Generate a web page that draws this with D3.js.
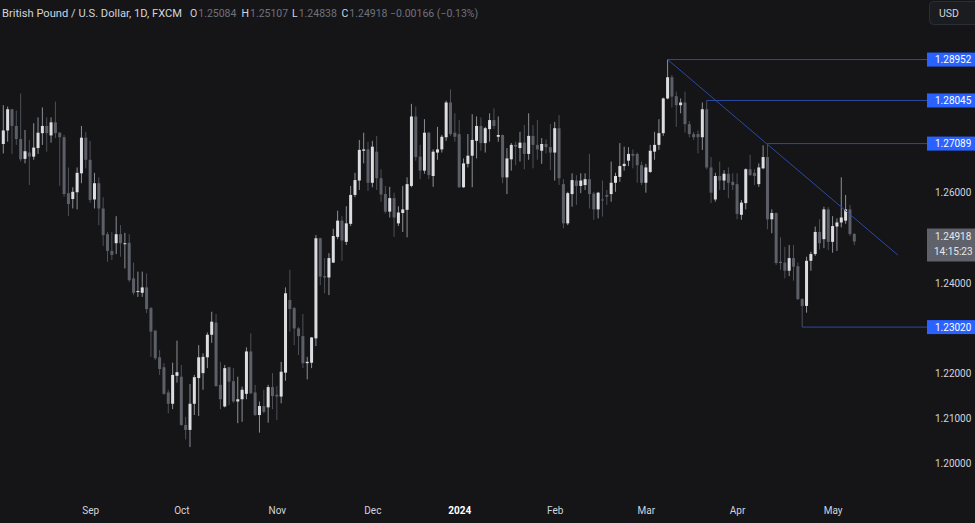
<!DOCTYPE html>
<html><head><meta charset="utf-8">
<script src="https://cdn.jsdelivr.net/npm/d3@7"></script>
<style>
html,body{margin:0;padding:0;background:#151518;overflow:hidden;}
svg{display:block;}
</style></head><body>
<svg id="chart" width="975" height="523"></svg>
<script>
// ---- data: GBP/USD daily candles (FXCM), Aug 2023 – May 2024 ----
const open = [
1.2708,1.2738,1.2785,1.2748,1.2719,1.2675,1.2689,1.2680,1.2699,1.2732,
1.2748,1.2727,1.2756,1.2733,1.2723,1.2599,1.2586,1.2601,1.2643,1.2722,
1.2673,1.2585,1.2621,1.2565,1.2508,1.2471,1.2488,1.2508,1.2486,1.2489,
1.2410,1.2381,1.2378,1.2390,1.2344,1.2294,1.2235,1.2213,1.2157,1.2132,
1.2194,1.2192,1.2085,1.2074,1.2132,1.2189,1.2200,1.2235,1.2285,1.2312,
1.2174,1.2126,1.2213,1.2182,1.2137,1.2142,1.2154,1.2248,1.2157,1.2107,
1.2127,1.2124,1.2169,1.2152,1.2148,1.2201,1.2362,1.2344,1.2299,1.2282,
1.2222,1.2223,1.2277,1.2499,1.2415,1.2412,1.2445,1.2502,1.2538,1.2491,
1.2531,1.2595,1.2627,1.2693,1.2696,1.2622,1.2691,1.2632,1.2597,1.2558,
1.2588,1.2532,1.2555,1.2562,1.2615,1.2769,1.2680,1.2649,1.2733,1.2637,
1.2689,1.2696,1.2723,1.2800,1.2733,1.2730,1.2612,1.2664,1.2682,1.2715,
1.2748,1.2710,1.2741,1.2761,1.2724,1.2728,1.2634,1.2674,1.2706,1.2699,
1.2711,1.2686,1.2726,1.2706,1.2693,1.2708,1.2701,1.2689,1.2743,1.2619,
1.2532,1.2597,1.2627,1.2615,1.2617,1.2630,1.2598,1.2563,1.2585,1.2595,
1.2597,1.2622,1.2635,1.2659,1.2671,1.2686,1.2686,1.2661,1.2622,1.2646,
1.2691,1.2706,1.2732,1.2809,1.2856,1.2814,1.2794,1.2800,1.2752,1.2730,
1.2730,1.2723,1.2785,1.2656,1.2585,1.2637,1.2627,1.2642,1.2624,1.2619,
1.2551,1.2577,1.2652,1.2644,1.2619,1.2654,1.2679,1.2541,1.2555,1.2447,
1.2445,1.2427,1.2455,1.2437,1.2364,1.2349,1.2449,1.2464,1.2513,1.2497,
1.2563,1.2491,1.2525,1.2534,1.2538,1.2563,1.25084];
const high = [
1.2794,1.2791,1.2786,1.2782,1.2820,1.2739,1.2717,1.2754,1.2767,1.2789,
1.2767,1.2767,1.2802,1.2734,1.2728,1.2656,1.2612,1.2656,1.2748,1.2735,
1.2715,1.2644,1.2634,1.2590,1.2513,1.2513,1.2548,1.2528,1.2511,1.2508,
1.2445,1.2425,1.2425,1.2421,1.2347,1.2296,1.2251,1.2222,1.2163,1.2223,
1.2272,1.2218,1.2103,1.2176,1.2196,1.2262,1.2244,1.2290,1.2336,1.2331,
1.2225,1.2218,1.2214,1.2211,1.2192,1.2170,1.2257,1.2288,1.2174,1.2137,
1.2163,1.2174,1.2200,1.2171,1.2225,1.2390,1.2429,1.2347,1.2302,1.2331,
1.2236,1.2280,1.2506,1.2500,1.2455,1.2466,1.2520,1.2560,1.2548,1.2570,
1.2615,1.2644,1.2717,1.2733,1.2713,1.2715,1.2726,1.2652,1.2615,1.2613,
1.2600,1.2570,1.2615,1.2634,1.2797,1.2791,1.2706,1.2763,1.2735,1.2696,
1.2746,1.2728,1.2804,1.2829,1.2776,1.2761,1.2676,1.2730,1.2774,1.2769,
1.2767,1.2746,1.2776,1.2787,1.2769,1.2729,1.2699,1.2710,1.2713,1.2735,
1.2750,1.2776,1.2750,1.2761,1.2721,1.2718,1.2752,1.2757,1.2772,1.2630,
1.2602,1.2643,1.2639,1.2643,1.2643,1.2686,1.2602,1.2602,1.2627,1.2606,
1.2669,1.2644,1.2710,1.2702,1.2701,1.2696,1.2689,1.2669,1.2664,1.2706,
1.2735,1.2763,1.2811,1.28952,1.2861,1.2824,1.2809,1.2824,1.2759,1.2735,
1.2738,1.2800,1.28045,1.2679,1.2644,1.2669,1.2650,1.2656,1.2643,1.2643,
1.2584,1.2654,1.2684,1.2652,1.2665,1.2705,1.27089,1.2563,1.2556,1.2501,
1.2480,1.2484,1.2484,1.2445,1.2366,1.2458,1.2469,1.2525,1.2541,1.2569,
1.2568,1.2548,1.2543,1.2634,1.2595,1.2573,1.25107];
const low = [
1.2687,1.2713,1.2686,1.2706,1.2669,1.2665,1.2617,1.2673,1.2686,1.2706,
1.2691,1.2711,1.2721,1.2615,1.2591,1.2548,1.2565,1.2563,1.2621,1.2654,
1.2578,1.2565,1.2528,1.2482,1.2447,1.2451,1.2464,1.2458,1.2432,1.2402,
1.2373,1.2369,1.2369,1.2333,1.2236,1.2229,1.2196,1.2152,1.2111,1.2120,
1.2179,1.2083,1.2053,1.2036,1.2107,1.2105,1.2163,1.2211,1.2267,1.2170,
1.2120,1.2124,1.2129,1.2134,1.2089,1.2092,1.2142,1.2154,1.2105,1.2068,
1.2111,1.2090,1.2120,1.2096,1.2133,1.2183,1.2292,1.2262,1.2240,1.2211,
1.2186,1.2211,1.2260,1.2395,1.2377,1.2373,1.2444,1.2497,1.2449,1.2484,
1.2526,1.2590,1.2606,1.2665,1.2604,1.2612,1.2606,1.2580,1.2554,1.2545,
1.2502,1.2526,1.2513,1.2501,1.2612,1.2671,1.2630,1.2642,1.2630,1.2613,
1.2673,1.2689,1.2715,1.2726,1.2713,1.2611,1.2611,1.2656,1.2612,1.2676,
1.2693,1.2689,1.2713,1.2741,1.2713,1.2621,1.2597,1.2649,1.2661,1.2669,
1.2652,1.2673,1.2654,1.2673,1.2664,1.2687,1.2650,1.2627,1.2617,1.2521,
1.2528,1.2569,1.2573,1.2599,1.2606,1.2565,1.2540,1.2543,1.2547,1.2573,
1.2580,1.2602,1.2624,1.2649,1.2659,1.2654,1.2622,1.2617,1.2600,1.2644,
1.2673,1.2695,1.2726,1.2807,1.2789,1.2746,1.2776,1.2733,1.2723,1.2717,
1.2687,1.2695,1.2652,1.2577,1.2580,1.2606,1.2606,1.2588,1.2606,1.2541,
1.2540,1.2563,1.2637,1.2617,1.2613,1.2652,1.2519,1.2510,1.2440,1.2429,
1.2410,1.2415,1.2405,1.2362,1.2302,1.2334,1.2427,1.2460,1.2474,1.2477,
1.2473,1.2467,1.2471,1.2523,1.2531,1.2504,1.24838];
const close = [
1.2738,1.2785,1.2748,1.2719,1.2674,1.2692,1.2680,1.2700,1.2733,1.2748,
1.2732,1.2756,1.2732,1.2723,1.2597,1.2575,1.2602,1.2644,1.2722,1.2673,
1.2584,1.2621,1.2565,1.2506,1.2471,1.2462,1.2508,1.2488,1.2488,1.2406,
1.2378,1.2382,1.2390,1.2342,1.2292,1.2233,1.2209,1.2154,1.2132,1.2196,
1.2202,1.2085,1.2074,1.2132,1.2191,1.2235,1.2236,1.2285,1.2314,1.2171,
1.2142,1.2211,1.2181,1.2137,1.2142,1.2163,1.2248,1.2155,1.2107,1.2127,
1.2114,1.2169,1.2149,1.2148,1.2203,1.2377,1.2342,1.2299,1.2282,1.2222,
1.2225,1.2279,1.2499,1.2414,1.2412,1.2455,1.2504,1.2538,1.2494,1.2532,
1.2595,1.2628,1.2695,1.2696,1.2622,1.2702,1.2632,1.2596,1.2558,1.2588,
1.2545,1.2556,1.2563,1.2619,1.2769,1.2679,1.2649,1.2733,1.2639,1.2691,
1.2696,1.2724,1.2800,1.2730,1.2724,1.2612,1.2665,1.2682,1.2717,1.2748,
1.2710,1.2743,1.2761,1.2748,1.2728,1.2634,1.2676,1.2706,1.2702,1.2711,
1.2686,1.2726,1.2706,1.2696,1.2708,1.2701,1.2689,1.2743,1.2632,1.2532,
1.2599,1.2628,1.2615,1.2627,1.2630,1.2597,1.2563,1.2600,1.2584,1.2591,
1.2622,1.2637,1.2659,1.2664,1.2686,1.2682,1.2661,1.2622,1.2656,1.2693,
1.2706,1.2732,1.2809,1.2856,1.2813,1.2794,1.2800,1.2752,1.2730,1.2723,
1.2723,1.2785,1.2656,1.2600,1.2637,1.2627,1.2642,1.2622,1.2617,1.2553,
1.2578,1.2652,1.2639,1.2637,1.2656,1.2679,1.2541,1.2555,1.2444,1.2444,
1.2427,1.2455,1.2436,1.2364,1.2349,1.2449,1.2464,1.2513,1.2488,1.2563,
1.2491,1.2526,1.2534,1.2545,1.2563,1.25084,1.24918];

// time axis: month labels and the bar index where each month starts
const monthLabels = ["Sep","Oct","Nov","Dec","2024","Feb","Mar","Apr","May"];
const monthBars   = [20, 41, 63, 85, 105, 127, 148, 169, 191];
// price axis ticks
const priceTicks = [1.20, 1.21, 1.22, 1.24, 1.26];
// horizontal levels (price, starting bar)
const levelPrices    = [1.28952, 1.28045, 1.27089, 1.23020];
const levelStartBars = [153, 162, 176, 184];
// descending trend line (bar, price)
const trendBars   = [153, 206];
const trendPrices = [1.28952, 1.2462];
// header text
const symbolTitle = "British Pound / U.S. Dollar, 1D, FXCM";
const currency = "USD";
const countdown = "14:15:23";

// ---- drawing ----
const W = 975, H = 523;
const FONT = "Roboto, 'Noto Sans', 'DejaVu Sans', sans-serif";
const BG = "#151518", TXT = "#d1d4dc", DIM = "#6f727b";
const UP = "#dcdde1", DOWN = "#5c5f67", UPW = "#8d8f95", DOWNW = "#4d5057";
const LINE = "#2b4aa3", LABEL = "#2962ff";

const svg = d3.select("#chart").attr("font-family", FONT);
svg.append("rect").attr("width", W).attr("height", H).attr("fill", BG);

const N = close.length;
const idx = d3.range(N);
const x = d3.scaleLinear().domain([0, N - 1]).range([3.3, 854.3]);
const y = d3.scaleLinear().domain([1.20, 1.26]).range([463.3, 192.7]);
const isUp = i => close[i] >= open[i];

const plot = svg.append("g");

// wicks
plot.selectAll("line.wick").data(idx).join("line")
  .attr("class", "wick")
  .attr("x1", i => x(i)).attr("x2", i => x(i))
  .attr("y1", i => y(high[i])).attr("y2", i => y(low[i]))
  .attr("stroke", i => isUp(i) ? UPW : DOWNW).attr("stroke-width", 1);

// bodies
plot.selectAll("rect.body").data(idx).join("rect")
  .attr("class", "body")
  .attr("x", i => x(i) - 1.5).attr("width", 3)
  .attr("y", i => y(Math.max(open[i], close[i])))
  .attr("height", i => Math.max(1, Math.abs(y(open[i]) - y(close[i]))))
  .attr("fill", i => isUp(i) ? UP : DOWN);

// horizontal level lines
const AXIS_X = 927;
plot.selectAll("line.level").data(levelPrices).join("line")
  .attr("class", "level")
  .attr("x1", (p, k) => x(levelStartBars[k])).attr("x2", AXIS_X)
  .attr("y1", p => y(p)).attr("y2", p => y(p))
  .attr("stroke", LINE).attr("stroke-width", 1);

// trend line
plot.append("line")
  .attr("x1", x(trendBars[0])).attr("y1", y(trendPrices[0]))
  .attr("x2", x(trendBars[1])).attr("y2", y(trendPrices[1]))
  .attr("stroke", LINE).attr("stroke-width", 1);

// price axis
const fmt = d3.format(".5f");
const yAxis = d3.axisRight(y).tickValues(priceTicks).tickSize(0).tickPadding(0).tickFormat(fmt);
svg.append("g").attr("transform", "translate(935,0)").call(yAxis)
  .call(g => g.select(".domain").remove())
  .attr("font-family", FONT).attr("font-size", 10)
  .selectAll("text").attr("fill", TXT);

// level labels
const lab = svg.append("g");
lab.selectAll("rect").data(levelPrices).join("rect")
  .attr("x", AXIS_X).attr("width", W - AXIS_X).attr("y", p => y(p) - 7).attr("height", 14)
  .attr("fill", LABEL);
lab.selectAll("text").data(levelPrices).join("text")
  .attr("x", 935).attr("y", p => y(p)).attr("dy", "0.35em")
  .attr("font-size", 10).attr("fill", "#ffffff").text(p => fmt(p));

// current price label
const last = N - 1;
const cy = y(close[last]);
svg.append("rect").attr("x", AXIS_X).attr("width", W - AXIS_X).attr("y", cy - 13).attr("height", 33)
  .attr("fill", "#5f626b");
svg.append("text").attr("x", 935).attr("y", cy - 1).attr("font-size", 10).attr("fill", "#e6e7ea").text(fmt(close[last]));
svg.append("text").attr("x", 934).attr("y", cy + 14).attr("font-size", 10).attr("fill", "#e6e7ea").text(countdown);

// time axis
const xAxis = d3.axisBottom(x).tickValues(monthBars).tickSize(0).tickPadding(3)
  .tickFormat((d, i) => monthLabels[i]);
svg.append("g").attr("transform", "translate(0,504)").call(xAxis)
  .call(g => g.select(".domain").remove())
  .attr("font-family", FONT).attr("font-size", 10)
  .selectAll("text").attr("fill", TXT)
  .attr("font-weight", (d, i) => /^\d{4}$/.test(monthLabels[i]) ? "bold" : "normal")
  .attr("fill", (d, i) => /^\d{4}$/.test(monthLabels[i]) ? "#ffffff" : TXT);

// currency button
svg.append("rect").attr("x", 929.5).attr("y", 1.5).attr("width", 52).attr("height", 23).attr("rx", 4)
  .attr("fill", "#1b1c20").attr("stroke", "#2c2e35");
svg.append("text").attr("x", 939).attr("y", 17).attr("font-size", 10.5).attr("fill", TXT).text(currency);

// header legend
const chg = close[last] - close[last - 1];
const pct = chg / close[last - 1] * 100;
const minus = v => (v < 0 ? "\u2212" : "+") + Math.abs(v);
const hdr = svg.append("g").attr("font-size", 10.5);
hdr.append("text").attr("x", 2).attr("y", 17).attr("fill", TXT)
  .attr("textLength", 180).attr("lengthAdjust", "spacingAndGlyphs").text(symbolTitle);
const parts = [
  {k: "O", v: fmt(open[last]), x: 190},
  {k: "H", v: fmt(high[last]), x: 241.5},
  {k: "L", v: fmt(low[last]), x: 292},
  {k: "C", v: fmt(close[last]), x: 341.5}
];
parts.forEach(p => {
  const t = hdr.append("text").attr("x", p.x).attr("y", 17);
  t.append("tspan").attr("fill", TXT).text(p.k);
  t.append("tspan").attr("fill", DIM).attr("dx", 1).text(p.v);
});
hdr.append("text").attr("x", 390).attr("y", 17).attr("fill", DIM)
  .text((chg < 0 ? "\u2212" : "+") + Math.abs(chg).toFixed(5) + " (" + (pct < 0 ? "\u2212" : "+") + Math.abs(pct).toFixed(2) + "%)");
</script>
</body></html>
